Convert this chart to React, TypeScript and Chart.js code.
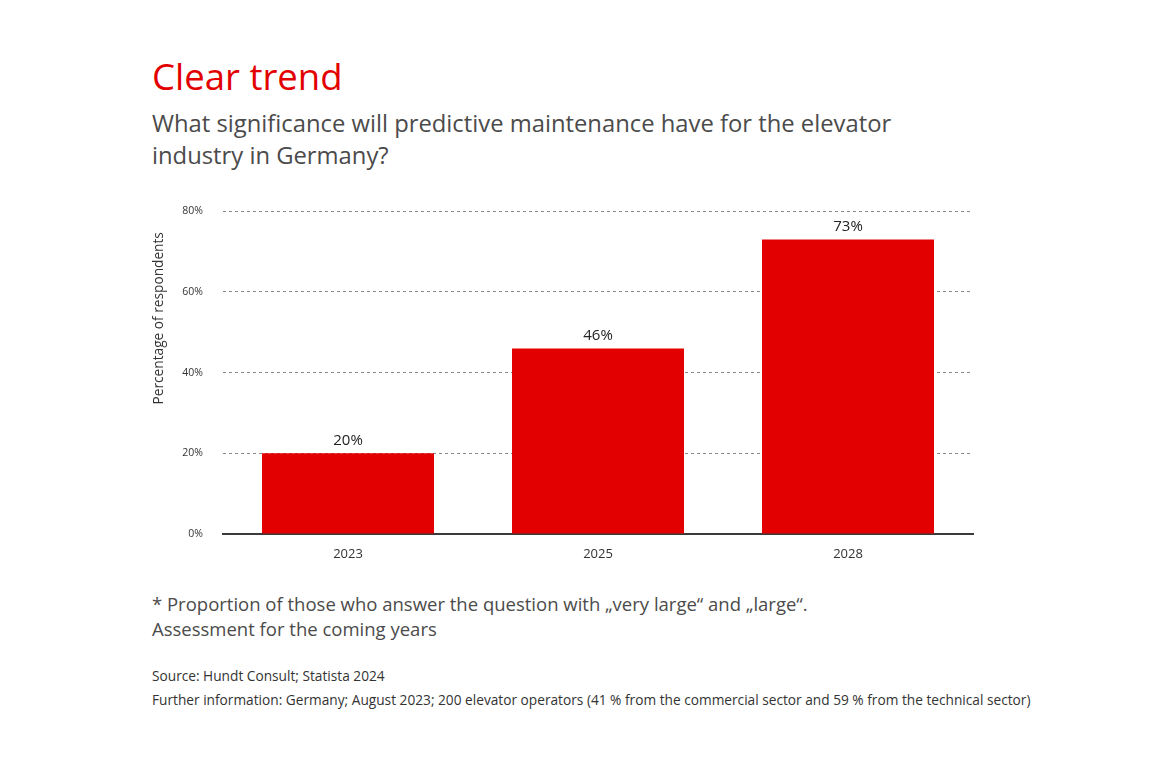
import { useEffect, useRef } from "react"
import { Chart, registerables, Plugin } from "chart.js"

Chart.register(...registerables)

const years = ["2023", "2025", "2028"]
const shares = [20, 46, 73]
const yTicks = [0, 20, 40, 60, 80]
const yAxisTitle = "Percentage of respondents"

const RED = "#e30000"
const GREY = "#4b4b4b"
const FONT = "'Open Sans', 'Noto Sans', sans-serif"

// value labels above each bar
const valueLabels: Plugin<"bar"> = {
  id: "valueLabels",
  afterDatasetsDraw(chart) {
    const { ctx } = chart
    const meta = chart.getDatasetMeta(0)
    ctx.save()
    ctx.fillStyle = "#222"
    ctx.font = `15px ${FONT}`
    ctx.textAlign = "center"
    ctx.textBaseline = "bottom"
    meta.data.forEach((bar, i) => {
      ctx.fillText(`${shares[i]}%`, bar.x, bar.y - 5)
    })
    ctx.restore()
  },
}

// y axis title sits above the middle in the original, so draw it by hand
const axisTitle: Plugin<"bar"> = {
  id: "axisTitle",
  afterDraw(chart) {
    const { ctx, chartArea } = chart
    ctx.save()
    ctx.translate(19, chartArea.top + 107)
    ctx.rotate(-Math.PI / 2)
    ctx.fillStyle = "#333"
    ctx.font = `13.7px ${FONT}`
    ctx.textAlign = "center"
    ctx.textBaseline = "middle"
    ctx.fillText(yAxisTitle, 0, 0)
    ctx.restore()
  },
}

function BarChart() {
  const chartRef = useRef<HTMLCanvasElement | null>(null)
  const chartInstance = useRef<Chart | null>(null)

  useEffect(() => {
    if (!chartRef.current) return
    if (chartInstance.current) chartInstance.current.destroy()
    const ctx = chartRef.current.getContext("2d")
    if (!ctx) return

    chartInstance.current = new Chart(ctx, {
      type: "bar",
      data: {
        labels: years,
        datasets: [
          {
            data: shares,
            backgroundColor: RED,
            borderWidth: 0,
            categoryPercentage: 1,
            barPercentage: 0.688,
          },
        ],
      },
      options: {
        responsive: true,
        maintainAspectRatio: false,
        animation: false,
        layout: { padding: { top: 6, right: 17, left: 0, bottom: 0 } },
        plugins: {
          legend: { display: false },
          tooltip: { enabled: false },
        },
        scales: {
          x: {
            grid: { display: false },
            border: { display: true, color: "#3a3a3a", width: 2 },
            ticks: {
              color: "#333",
              font: { family: FONT, size: 13 },
              padding: 4,
            },
            afterFit: (scale) => {
              scale.height = 41
            },
          },
          y: {
            min: 0,
            max: 80,
            afterBuildTicks: (scale) => {
              scale.ticks = yTicks.map((v) => ({ value: v }))
            },
            grid: {
              color: (c) => (c.tick && c.tick.value === 0 ? "rgba(0,0,0,0)" : "#8a8a8a"),
              lineWidth: 1,
              drawTicks: false,
            },
            border: { display: false, dash: [3, 3] },
            ticks: {
              color: "#333",
              font: { family: FONT, size: 10.5 },
              padding: 20,
              callback: (v) => `${v}%`,
            },
            afterFit: (scale) => {
              scale.width = 83
            },
          },
        },
      },
      plugins: [valueLabels, axisTitle],
    })

    return () => {
      if (chartInstance.current) {
        chartInstance.current.destroy()
        chartInstance.current = null
      }
    }
  }, [])

  return <canvas ref={chartRef} />
}

export default function App() {
  useEffect(() => {
    document.body.style.margin = "0"
  }, [])

  const abs = (top: number, size: number, color = GREY, extra = {}) => ({
    position: "absolute" as const,
    left: 152,
    top,
    fontSize: size,
    color,
    whiteSpace: "nowrap" as const,
    fontFamily: FONT,
    ...extra,
  })

  return (
    <div style={{ position: "relative", width: 1176, height: 779, background: "#fff", overflow: "hidden" }}>
      <div style={abs(52, 36.5, RED, { lineHeight: "48px" })}>Clear trend</div>
      <div style={abs(107, 23.8, GREY, { lineHeight: "32px" })}>
        What significance will predictive maintenance have for the elevator
        <br />
        industry in Germany?
      </div>
      <div style={{ position: "absolute", left: 140, top: 185, width: 850, height: 390 }}>
        <BarChart />
      </div>
      <div style={abs(591, 18.5, GREY, { lineHeight: "25px" })}>
        * Proportion of those who answer the question with „very large“ and „large“.
        <br />
        Assessment for the coming years
      </div>
      <div style={abs(666, 13.7, "#333", { lineHeight: "20px" })}>Source: Hundt Consult; Statista 2024</div>
      <div style={abs(690, 13.7, "#333", { lineHeight: "20px" })}>
        Further information: Germany; August 2023; 200 elevator operators (41 % from the commercial sector and 59 % from the technical sector)
      </div>
    </div>
  )
}
